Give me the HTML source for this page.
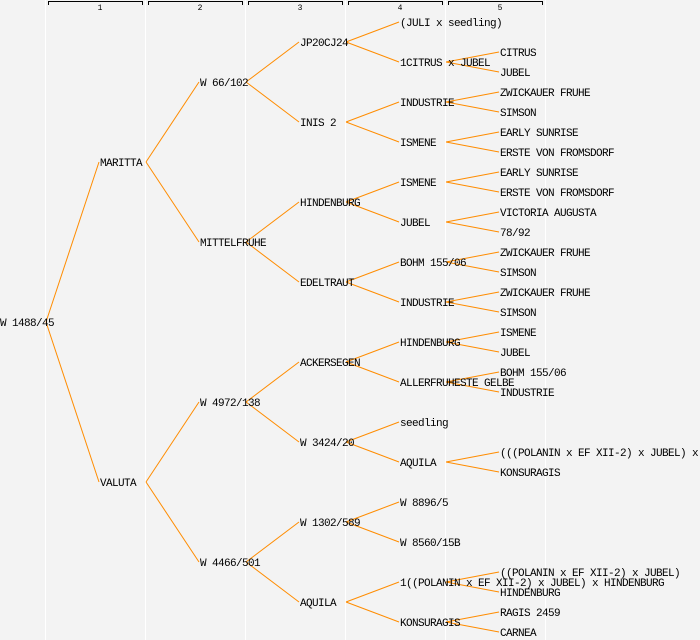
<!DOCTYPE html>
<html><head><meta charset="utf-8"><style>
html,body{margin:0;padding:0;background:#f3f3f3;}
svg{display:block;}
text{font-family:"Liberation Mono",monospace;font-size:11px;letter-spacing:-0.6px;fill:#000;}
.h{font-size:8px;letter-spacing:0;}
line.e{stroke:#ff8c00;stroke-width:1;}
</style></head><body>
<svg width="700" height="640" xmlns="http://www.w3.org/2000/svg">
<rect width="700" height="640" fill="#f3f3f3"/>
<g stroke="#ffffff" stroke-width="1">
<line x1="45.5" y1="0" x2="45.5" y2="640"/><line x1="145.5" y1="0" x2="145.5" y2="640"/><line x1="245.5" y1="0" x2="245.5" y2="640"/><line x1="345.5" y1="0" x2="345.5" y2="640"/><line x1="445.5" y1="0" x2="445.5" y2="640"/><line x1="545.5" y1="0" x2="545.5" y2="640"/>
</g>
<g stroke="#000" stroke-width="1" fill="none">
<path d="M48.5 5V1.5H142.5V5"/><path d="M148.5 5V1.5H242.5V5"/><path d="M248.5 5V1.5H342.5V5"/><path d="M348.5 5V1.5H442.5V5"/><path d="M448.5 5V1.5H542.5V5"/>
</g>
<text class="h" x="100" y="10" text-anchor="middle">1</text>
<text class="h" x="200" y="10" text-anchor="middle">2</text>
<text class="h" x="300" y="10" text-anchor="middle">3</text>
<text class="h" x="400" y="10" text-anchor="middle">4</text>
<text class="h" x="500" y="10" text-anchor="middle">5</text>
<g class="l">
<line class="e" x1="46" y1="322" x2="99" y2="162"/><line class="e" x1="46" y1="322" x2="99" y2="482"/>
<line class="e" x1="146" y1="162" x2="199" y2="82"/><line class="e" x1="146" y1="162" x2="199" y2="242"/>
<line class="e" x1="146" y1="482" x2="199" y2="402"/><line class="e" x1="146" y1="482" x2="199" y2="562"/>
<line class="e" x1="246" y1="82" x2="299" y2="42"/><line class="e" x1="246" y1="82" x2="299" y2="122"/>
<line class="e" x1="246" y1="242" x2="299" y2="202"/><line class="e" x1="246" y1="242" x2="299" y2="282"/>
<line class="e" x1="246" y1="402" x2="299" y2="362"/><line class="e" x1="246" y1="402" x2="299" y2="442"/>
<line class="e" x1="246" y1="562" x2="299" y2="522"/><line class="e" x1="246" y1="562" x2="299" y2="602"/>
<line class="e" x1="346" y1="42" x2="399" y2="22"/><line class="e" x1="346" y1="42" x2="399" y2="62"/>
<line class="e" x1="346" y1="122" x2="399" y2="102"/><line class="e" x1="346" y1="122" x2="399" y2="142"/>
<line class="e" x1="346" y1="202" x2="399" y2="182"/><line class="e" x1="346" y1="202" x2="399" y2="222"/>
<line class="e" x1="346" y1="282" x2="399" y2="262"/><line class="e" x1="346" y1="282" x2="399" y2="302"/>
<line class="e" x1="346" y1="362" x2="399" y2="342"/><line class="e" x1="346" y1="362" x2="399" y2="382"/>
<line class="e" x1="346" y1="442" x2="399" y2="422"/><line class="e" x1="346" y1="442" x2="399" y2="462"/>
<line class="e" x1="346" y1="522" x2="399" y2="502"/><line class="e" x1="346" y1="522" x2="399" y2="542"/>
<line class="e" x1="346" y1="602" x2="399" y2="582"/><line class="e" x1="346" y1="602" x2="399" y2="622"/>
<line class="e" x1="446" y1="62" x2="499" y2="52"/><line class="e" x1="446" y1="62" x2="499" y2="72"/>
<line class="e" x1="446" y1="102" x2="499" y2="92"/><line class="e" x1="446" y1="102" x2="499" y2="112"/>
<line class="e" x1="446" y1="142" x2="499" y2="132"/><line class="e" x1="446" y1="142" x2="499" y2="152"/>
<line class="e" x1="446" y1="182" x2="499" y2="172"/><line class="e" x1="446" y1="182" x2="499" y2="192"/>
<line class="e" x1="446" y1="222" x2="499" y2="212"/><line class="e" x1="446" y1="222" x2="499" y2="232"/>
<line class="e" x1="446" y1="262" x2="499" y2="252"/><line class="e" x1="446" y1="262" x2="499" y2="272"/>
<line class="e" x1="446" y1="302" x2="499" y2="292"/><line class="e" x1="446" y1="302" x2="499" y2="312"/>
<line class="e" x1="446" y1="342" x2="499" y2="332"/><line class="e" x1="446" y1="342" x2="499" y2="352"/>
<line class="e" x1="446" y1="382" x2="499" y2="372"/><line class="e" x1="446" y1="382" x2="499" y2="392"/>
<line class="e" x1="446" y1="462" x2="499" y2="452"/><line class="e" x1="446" y1="462" x2="499" y2="472"/>
<line class="e" x1="446" y1="582" x2="499" y2="572"/><line class="e" x1="446" y1="582" x2="499" y2="592"/>
<line class="e" x1="446" y1="622" x2="499" y2="612"/><line class="e" x1="446" y1="622" x2="499" y2="632"/>
</g>
<text x="0" y="326">W 1488/45</text>
<text x="100" y="166">MARITTA</text>
<text x="100" y="486">VALUTA</text>
<text x="200" y="86">W 66/102</text>
<text x="200" y="246">MITTELFRUHE</text>
<text x="200" y="406">W 4972/138</text>
<text x="200" y="566">W 4466/501</text>
<text x="300" y="46">JP20CJ24</text>
<text x="300" y="126">INIS 2</text>
<text x="300" y="206">HINDENBURG</text>
<text x="300" y="286">EDELTRAUT</text>
<text x="300" y="366">ACKERSEGEN</text>
<text x="300" y="446">W 3424/20</text>
<text x="300" y="526">W 1302/589</text>
<text x="300" y="606">AQUILA</text>
<text x="400" y="26">(JULI x seedling)</text>
<text x="400" y="66">1CITRUS x JUBEL</text>
<text x="400" y="106">INDUSTRIE</text>
<text x="400" y="146">ISMENE</text>
<text x="400" y="186">ISMENE</text>
<text x="400" y="226">JUBEL</text>
<text x="400" y="266">BOHM 155/06</text>
<text x="400" y="306">INDUSTRIE</text>
<text x="400" y="346">HINDENBURG</text>
<text x="400" y="386">ALLERFRUHESTE GELBE</text>
<text x="400" y="426">seedling</text>
<text x="400" y="466">AQUILA</text>
<text x="400" y="506">W 8896/5</text>
<text x="400" y="546">W 8560/15B</text>
<text x="400" y="586">1((POLANIN x EF XII-2) x JUBEL) x HINDENBURG</text>
<text x="400" y="626">KONSURAGIS</text>
<text x="500" y="56">CITRUS</text>
<text x="500" y="76">JUBEL</text>
<text x="500" y="96">ZWICKAUER FRUHE</text>
<text x="500" y="116">SIMSON</text>
<text x="500" y="136">EARLY SUNRISE</text>
<text x="500" y="156">ERSTE VON FROMSDORF</text>
<text x="500" y="176">EARLY SUNRISE</text>
<text x="500" y="196">ERSTE VON FROMSDORF</text>
<text x="500" y="216">VICTORIA AUGUSTA</text>
<text x="500" y="236">78/92</text>
<text x="500" y="256">ZWICKAUER FRUHE</text>
<text x="500" y="276">SIMSON</text>
<text x="500" y="296">ZWICKAUER FRUHE</text>
<text x="500" y="316">SIMSON</text>
<text x="500" y="336">ISMENE</text>
<text x="500" y="356">JUBEL</text>
<text x="500" y="376">BOHM 155/06</text>
<text x="500" y="396">INDUSTRIE</text>
<text x="500" y="456">(((POLANIN x EF XII-2) x JUBEL) x</text>
<text x="500" y="476">KONSURAGIS</text>
<text x="500" y="576">((POLANIN x EF XII-2) x JUBEL)</text>
<text x="500" y="596">HINDENBURG</text>
<text x="500" y="616">RAGIS 2459</text>
<text x="500" y="636">CARNEA</text>
</svg>
</body></html>
